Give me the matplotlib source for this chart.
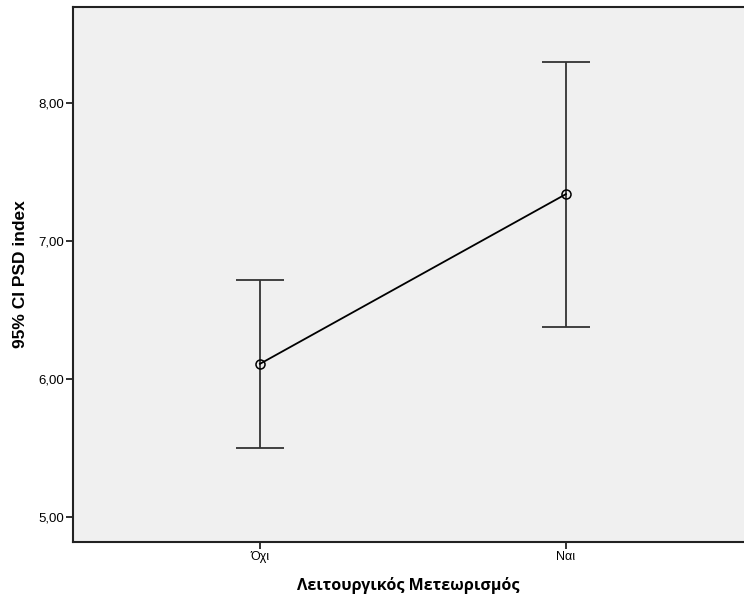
import matplotlib
matplotlib.use("Agg")
import matplotlib.pyplot as plt

# Mean PSD index with 95% confidence intervals per group
categories = ["Όχι", "Ναι"]
means = [6.11, 7.34]
ci_lower = [5.50, 6.38]
ci_upper = [6.72, 8.30]
yticks = [5.0, 6.0, 7.0, 8.0]
ytick_labels = ["5,00", "6,00", "7,00", "8,00"]

W, H = 744, 601
fig = plt.figure(figsize=(W / 100, H / 100), dpi=100)
ax = fig.add_axes([73 / W, (H - 542) / H, (W - 73) / W, (542 - 7) / H])
ax.set_facecolor("#F0F0F0")

x = list(range(len(categories)))
yerr = [[m - lo for m, lo in zip(means, ci_lower)],
        [hi - m for m, hi in zip(means, ci_upper)]]

ax.errorbar(x, means, yerr=yerr, fmt="none", ecolor="#333333",
            elinewidth=1.3, capsize=17, capthick=1.3, zorder=2)
ax.plot(x, means, color="black", linewidth=1.3, zorder=3)
ax.plot(x, means, linestyle="none", marker="o", markersize=6.5,
        markerfacecolor="none", markeredgecolor="black",
        markeredgewidth=1.1, zorder=4)

ax.set_xlim(-0.611, 1.582)
ax.set_ylim(4.819, 8.696)
ax.set_xticks(x)
ax.set_xticklabels(categories, fontsize=9, family=["Liberation Sans", "DejaVu Sans"])
ax.set_yticks(yticks)
ax.set_yticklabels(ytick_labels, fontsize=9.5, family="Liberation Sans")

ax.tick_params(axis="both", direction="out", length=5, width=1.3, color="#222222", pad=1.5)
for side in ["left", "bottom", "top"]:
    ax.spines[side].set_linewidth(1.5)
    ax.spines[side].set_color("#222222")
ax.spines["right"].set_visible(False)

ax.set_ylabel("95% CI PSD index", fontsize=12.5, fontweight="bold",
              family="Liberation Sans", labelpad=7)
ax.set_xlabel("Λειτουργικός Μετεωρισμός", fontsize=11.5, fontweight="bold",
              family=["Open Sans", "DejaVu Sans"], labelpad=10)

fig.savefig("out.png", dpi=100, facecolor="white")
